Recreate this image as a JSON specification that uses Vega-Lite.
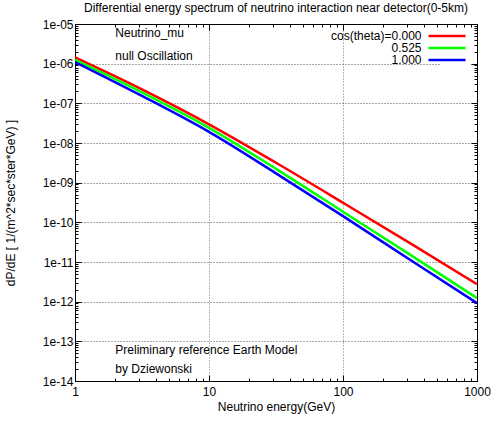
{
  "$schema": "https://vega.github.io/schema/vega-lite/v6.json",
  "autosize": "none",
  "padding": {"left": 75, "top": 24, "right": 27, "bottom": 45},
  "width": 402,
  "height": 357,
  "title": {
    "text": "Differential energy spectrum of neutrino interaction near detector(0-5km)",
    "font": "Liberation Sans",
    "fontSize": 12,
    "fontWeight": "normal",
    "color": "#000000",
    "anchor": "middle",
    "offset": 3
  },
  "config": {
    "view": {"stroke": "#000000", "strokeWidth": 1},
    "font": "Liberation Sans",
    "axis": {
      "labelFont": "Liberation Sans",
      "labelFontSize": 12,
      "labelColor": "#000000",
      "titleFont": "Liberation Sans",
      "titleFontSize": 12,
      "titleFontWeight": "normal",
      "titleColor": "#000000",
      "domainColor": "#000000",
      "tickColor": "#000000",
      "labelOverlap": false,
      "labelFlush": false
    }
  },
  "datasets": {
    "curves": [
      {"energy": 1, "dPdE": 1.435e-6, "cos": "cos(theta)=0.000"},
      {"energy": 3.1623, "dPdE": 2.24e-7, "cos": "cos(theta)=0.000"},
      {"energy": 10, "dPdE": 2.95e-8, "cos": "cos(theta)=0.000"},
      {"energy": 31.623, "dPdE": 3.17e-9, "cos": "cos(theta)=0.000"},
      {"energy": 100, "dPdE": 3.12e-10, "cos": "cos(theta)=0.000"},
      {"energy": 316.23, "dPdE": 2.98e-11, "cos": "cos(theta)=0.000"},
      {"energy": 1000, "dPdE": 2.77e-12, "cos": "cos(theta)=0.000"},
      {"energy": 1, "dPdE": 1.24e-6, "cos": "0.525"},
      {"energy": 3.1623, "dPdE": 1.886e-7, "cos": "0.525"},
      {"energy": 10, "dPdE": 2.41e-8, "cos": "0.525"},
      {"energy": 31.623, "dPdE": 2.23e-9, "cos": "0.525"},
      {"energy": 100, "dPdE": 1.85e-10, "cos": "0.525"},
      {"energy": 316.23, "dPdE": 1.53e-11, "cos": "0.525"},
      {"energy": 1000, "dPdE": 1.23e-12, "cos": "0.525"},
      {"energy": 1, "dPdE": 1.10e-6, "cos": "1.000"},
      {"energy": 3.1623, "dPdE": 1.54e-7, "cos": "1.000"},
      {"energy": 10, "dPdE": 1.91e-8, "cos": "1.000"},
      {"energy": 31.623, "dPdE": 1.72e-9, "cos": "1.000"},
      {"energy": 100, "dPdE": 1.43e-10, "cos": "1.000"},
      {"energy": 316.23, "dPdE": 1.14e-11, "cos": "1.000"},
      {"energy": 1000, "dPdE": 9.18e-13, "cos": "1.000"}
    ],
    "notes": [
      {"energy": 2.0, "dPdE": 5.93e-6, "text": "Neutrino_mu"},
      {"energy": 2.0, "dPdE": 1.56e-6, "text": "null Oscillation"},
      {"energy": 2.0, "dPdE": 6.2e-14, "text": "Preliminary reference Earth Model"},
      {"energy": 2.0, "dPdE": 2.06e-14, "text": "by Dziewonski"}
    ]
  },
  "layer": [
    {
      "data": {"name": "curves"},
      "mark": {"type": "line", "strokeWidth": 2.5, "interpolate": "monotone", "clip": true},
      "encoding": {
        "x": {
          "field": "energy", "type": "quantitative",
          "scale": {"type": "log", "domain": [1, 1000], "nice": false},
          "axis": {
            "orient": "bottom",
            "title": "Neutrino energy(GeV)",
            "titlePadding": 1,
            "values": [1,2,3,4,5,6,7,8,9,10,20,30,40,50,60,70,80,90,100,200,300,400,500,600,700,800,900,1000],
            "labelExpr": "indexof([1,10,100,1000], datum.value) >= 0 ? '' + datum.value : ''",
            "labelPadding": 11,
            "tickSize": {"condition": {"test": "indexof([1,10,100,1000], datum.value) >= 0", "value": -6}, "value": -3},
            "grid": true,
            "gridColor": "#707070",
            "gridDash": [1, 2],
            "gridOpacity": {"condition": {"test": "datum.value == 10 || datum.value == 100", "value": 1}, "value": 0}
          }
        },
        "y": {
          "field": "dPdE", "type": "quantitative",
          "scale": {"type": "log", "domain": [1e-14, 1e-5], "nice": false},
          "axis": {
            "orient": "left",
            "title": "dP/dE [ 1/(m^2*sec*ster*GeV) ]",
            "titlePadding": 25,
            "values": [1e-14,2e-14,3e-14,4e-14,5e-14,6e-14,7e-14,8e-14,9e-14,1e-13,2e-13,3e-13,4e-13,5e-13,6e-13,7e-13,8e-13,9e-13,1e-12,2e-12,3e-12,4e-12,5e-12,6e-12,7e-12,8e-12,9e-12,1e-11,2e-11,3e-11,4e-11,5e-11,6e-11,7e-11,8e-11,9e-11,1e-10,2e-10,3e-10,4e-10,5e-10,6e-10,7e-10,8e-10,9e-10,1e-9,2e-9,3e-9,4e-9,5e-9,6e-9,7e-9,8e-9,9e-9,1e-8,2e-8,3e-8,4e-8,5e-8,6e-8,7e-8,8e-8,9e-8,1e-7,2e-7,3e-7,4e-7,5e-7,6e-7,7e-7,8e-7,9e-7,1e-6,2e-6,3e-6,4e-6,5e-6,6e-6,7e-6,8e-6,9e-6,1e-5],
            "labelExpr": "abs(log(datum.value)/LN10 - round(log(datum.value)/LN10)) < 0.001 ? '1e-' + (round(log(datum.value)/LN10) > -10 ? '0' : '') + (-round(log(datum.value)/LN10)) : ''",
            "labelPadding": 8,
            "tickSize": {"condition": {"test": "abs(log(datum.value)/LN10 - round(log(datum.value)/LN10)) < 0.001", "value": -6}, "value": -3},
            "grid": true,
            "gridColor": "#505050",
            "gridDash": [1, 2],
            "gridOpacity": {"condition": {"test": "abs(log(datum.value)/LN10 - round(log(datum.value)/LN10)) < 0.001", "value": 1}, "value": 0}
          }
        },
        "color": {
          "field": "cos", "type": "nominal",
          "scale": {"domain": ["cos(theta)=0.000", "0.525", "1.000"], "range": ["#ff0000", "#00ff00", "#0000ff"]},
          "legend": {
            "orient": "top-right",
            "title": null,
            "symbolType": "M-4,0H4",
            "symbolSize": 85.6,
            "symbolStrokeWidth": 2.5,
            "symbolFillColor": "transparent",
            "labelFont": "Liberation Sans",
            "labelFontSize": 12,
            "labelColor": "#000000",
            "labelAlign": "right",
            "labelOffset": -31.5,
            "labelLimit": 300,
            "fillColor": "#ffffff",
            "padding": 0,
            "rowPadding": 0,
            "offset": 6
          }
        }
      }
    },
    {
      "data": {"name": "notes"},
      "mark": {"type": "text", "align": "left", "baseline": "middle", "font": "Liberation Sans", "fontSize": 12, "color": "#000000"},
      "encoding": {
        "x": {
          "field": "energy", "type": "quantitative",
          "axis": {
            "orient": "top",
            "title": null,
            "labels": false,
            "values": [1,2,3,4,5,6,7,8,9,10,20,30,40,50,60,70,80,90,100,200,300,400,500,600,700,800,900,1000],
            "tickSize": {"condition": {"test": "indexof([1,10,100,1000], datum.value) >= 0", "value": -6}, "value": -3},
            "grid": false
          }
        },
        "y": {
          "field": "dPdE", "type": "quantitative",
          "axis": {
            "orient": "right",
            "title": null,
            "labels": false,
            "values": [1e-14,2e-14,3e-14,4e-14,5e-14,6e-14,7e-14,8e-14,9e-14,1e-13,2e-13,3e-13,4e-13,5e-13,6e-13,7e-13,8e-13,9e-13,1e-12,2e-12,3e-12,4e-12,5e-12,6e-12,7e-12,8e-12,9e-12,1e-11,2e-11,3e-11,4e-11,5e-11,6e-11,7e-11,8e-11,9e-11,1e-10,2e-10,3e-10,4e-10,5e-10,6e-10,7e-10,8e-10,9e-10,1e-9,2e-9,3e-9,4e-9,5e-9,6e-9,7e-9,8e-9,9e-9,1e-8,2e-8,3e-8,4e-8,5e-8,6e-8,7e-8,8e-8,9e-8,1e-7,2e-7,3e-7,4e-7,5e-7,6e-7,7e-7,8e-7,9e-7,1e-6,2e-6,3e-6,4e-6,5e-6,6e-6,7e-6,8e-6,9e-6,1e-5],
            "tickSize": {"condition": {"test": "abs(log(datum.value)/LN10 - round(log(datum.value)/LN10)) < 0.001", "value": -6}, "value": -3},
            "grid": false
          }
        },
        "text": {"field": "text"}
      }
    }
  ],
  "resolve": {"axis": {"x": "independent", "y": "independent"}}
}
